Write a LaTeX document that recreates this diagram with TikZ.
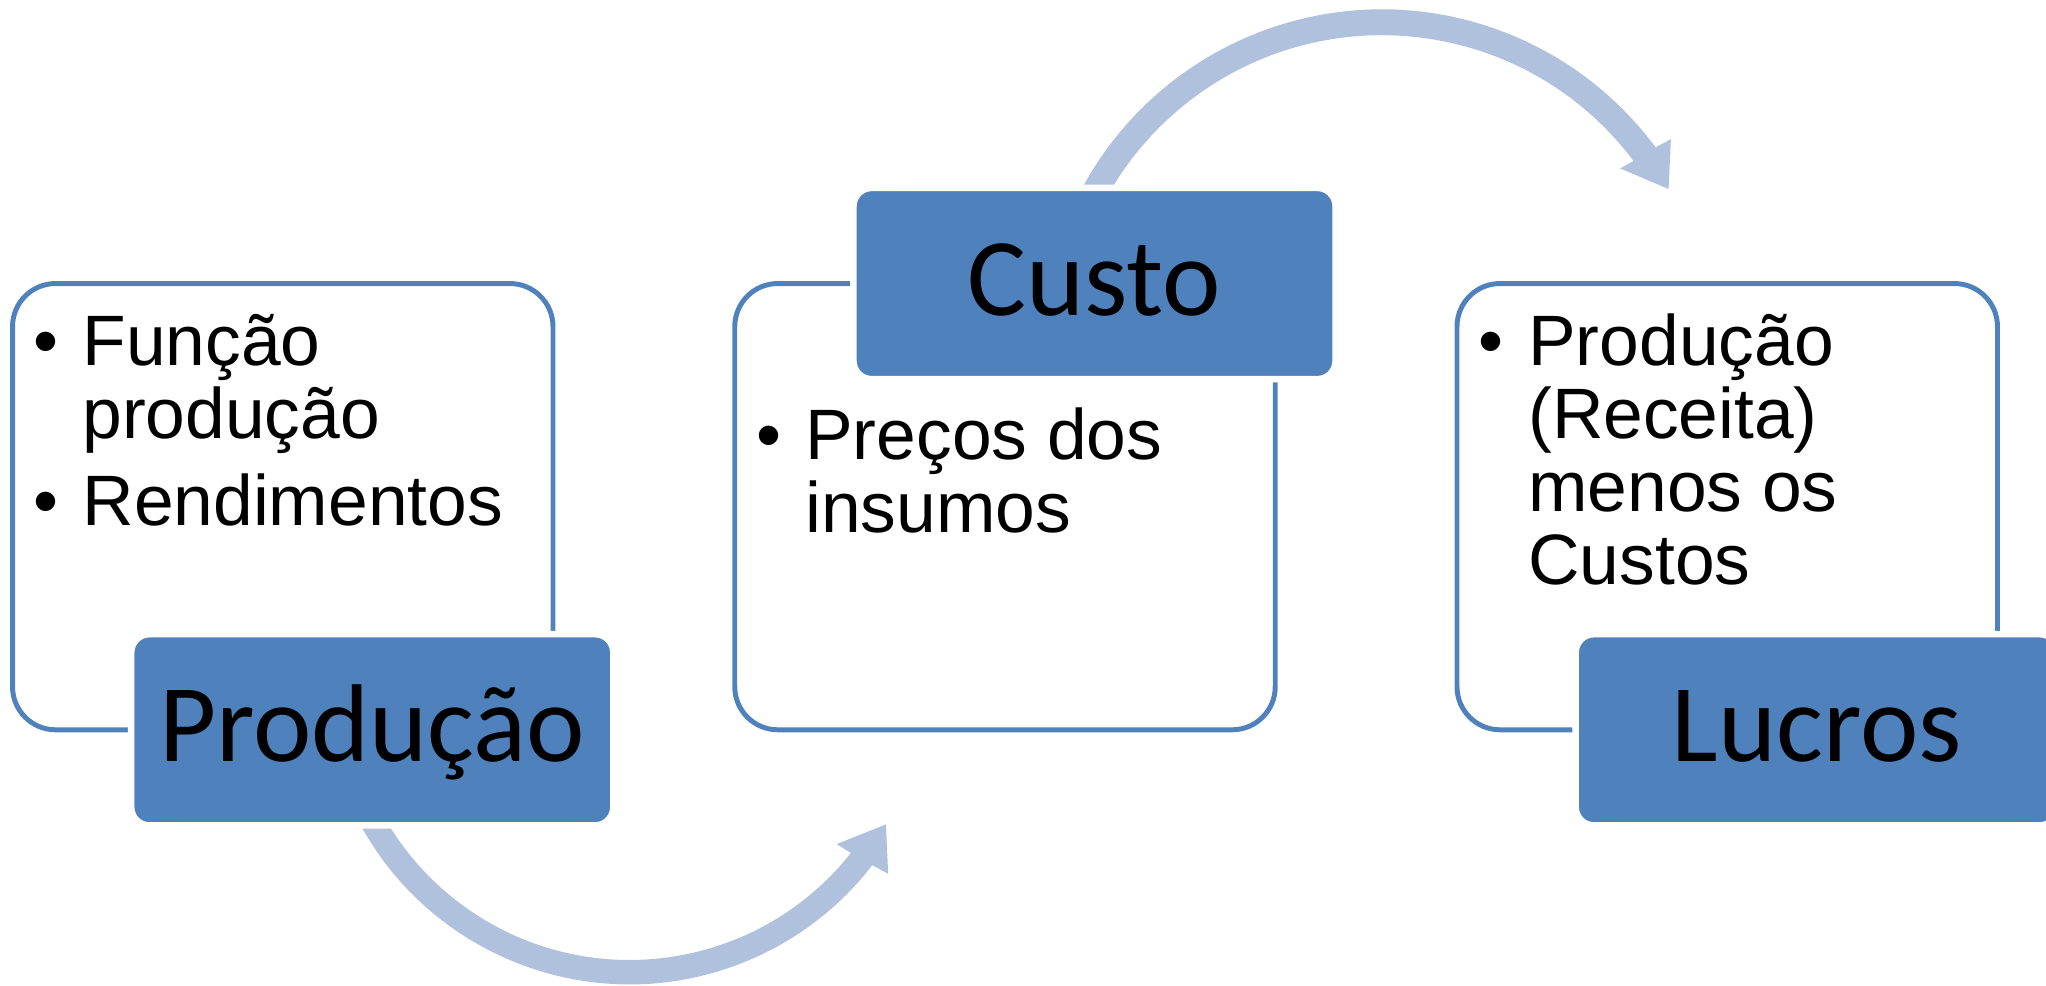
\documentclass[tikz,border=0pt]{standalone}
\usepackage{fontspec}
\setmainfont{Liberation Sans}
\newfontfamily\calibrifont{Carlito}
\definecolor{accent}{RGB}{79,129,189}
\definecolor{arrowcol}{RGB}{176,193,221}
\begin{document}
\begin{tikzpicture}[x=1pt,y=1pt,
  outline/.style={draw=accent, line width=3.8pt, rounded corners=33pt, minimum width=414.2pt, minimum height=342pt, inner sep=0pt, outer sep=0pt},
  titlebox/.style={draw=white, line width=5pt, fill=accent, rounded corners=14pt, minimum width=369.5pt, minimum height=146.6pt, inner sep=0pt},
  titletext/.style={font=\calibrifont\fontsize{84.8pt}{90pt}\selectfont, anchor=base, inner sep=0pt},
  itemtext/.style={font=\fontsize{54.7pt}{56pt}\selectfont, anchor=base west, inner sep=0pt},
  bulletmark/.style={font=\fontsize{54.7pt}{56pt}\selectfont, anchor=base, inner sep=0pt},
  bigarrow/.style={fill=arrowcol, draw=none}]
\useasboundingbox (0,0) rectangle (1568,755);
% curved arrows (drawn first, partly hidden by the boxes)
\coordinate (ct) at (1059,486.8);
\coordinate (cb) at (482.5,235.7);
\fill[bigarrow] ([shift={(ct)}]160:261pt) arc[start angle=160,end angle=36.5,radius=261pt]
  -- ([shift={(ct)}]36.1:274.2pt) -- ([shift={(ct)}]29.3:252pt) -- ([shift={(ct)}]37.3:229.6pt)
  -- ([shift={(ct)}]36.9:241.2pt) arc[start angle=36.9,end angle=160,radius=241.2pt] -- cycle;
\fill[bigarrow] ([shift={(cb)}]-160:235.1pt) arc[start angle=-160,end angle=-37.7,radius=235.1pt]
  -- ([shift={(cb)}]-37.2:248.8pt) -- ([shift={(cb)}]-29.8:226.4pt) -- ([shift={(cb)}]-38.8:203.6pt)
  -- ([shift={(cb)}]-38.4:216.4pt) arc[start angle=-38.4,end angle=-160,radius=216.4pt] -- cycle;
% outline boxes
\node[outline] (b1) at (216.7,366.7) {};
\node[outline] (b2) at (770.2,366.7) {};
\node[outline] (b3) at (1323.7,366.7) {};
% title boxes
\node[titlebox] (t1) at ([xshift=68.6pt]b1.south) {};
\node[titlebox] (t2) at ([xshift=68.6pt]b2.north) {};
\node[titlebox] (t3) at ([xshift=68.6pt]b3.south) {};
\node[titletext] (t1l) at ([yshift=-24.3pt]t1.center) {Produção};
\node[titletext] (t2l) at ([yshift=-24.3pt]t2.center) {Custo};
\node[titletext] (t3l) at ([yshift=-24.3pt]t3.center) {Lucros};
% left box items
\node[bulletmark] (m11) at (35,475) {•};
\node[itemtext] (i11) at (63,475) {Função};
\node[itemtext] (i12) at (63,419) {produção};
\node[bulletmark] (m12) at (35,352) {•};
\node[itemtext] (i13) at (63,352) {Rendimentos};
% middle box items
\node[bulletmark] (m21) at (589,403) {•};
\node[itemtext] (i21) at (617,403) {Preços dos};
\node[itemtext] (i22) at (617,347) {insumos};
% right box items
\node[bulletmark] (m31) at (1143,475) {•};
\node[itemtext] (i31) at (1171,475) {Produção};
\node[itemtext] (i32) at (1171,419) {(Receita)};
\node[itemtext] (i33) at (1171,363) {menos os};
\node[itemtext] (i34) at (1171,307) {Custos};
\end{tikzpicture}
\end{document}
